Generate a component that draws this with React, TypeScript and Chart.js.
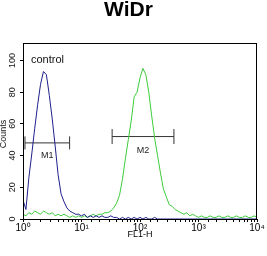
import { useEffect, useRef } from "react";
import { Chart, registerables } from "chart.js";

Chart.register(...registerables);

// FL1-H bin centres, as decade exponents (10^e)
const logBins = [
  0.0, 0.05, 0.1, 0.15, 0.2, 0.25, 0.3, 0.35, 0.4, 0.45, 0.5, 0.55, 0.6, 0.65, 0.7, 0.75, 0.8, 0.85, 0.9, 0.95,
  1.0, 1.05, 1.1, 1.15, 1.2, 1.25, 1.3, 1.35, 1.4, 1.45, 1.5, 1.55, 1.6, 1.65, 1.7, 1.75, 1.8, 1.85, 1.9, 1.95,
  2.0, 2.05, 2.1, 2.15, 2.2, 2.25, 2.3, 2.35, 2.4, 2.45, 2.5, 2.55, 2.6, 2.65, 2.7, 2.75, 2.8, 2.85, 2.9, 2.95,
  3.0, 3.05, 3.1, 3.15, 3.2, 3.25, 3.3, 3.35, 3.4, 3.45, 3.5, 3.55, 3.6, 3.65, 3.7, 3.75, 3.8, 3.85, 3.9, 3.95, 4.0,
];

// control (blue)
const controlCounts = [
  12, 6, 26, 41, 57, 72, 85, 93, 91, 78, 63, 46, 28, 16, 11, 7, 5, 4, 3, 3,
  2, 3, 1, 2, 1, 2, 1, 2, 1, 1, 2, 1, 1, 0, 1, 0, 1, 0, 1, 0,
  1, 0, 1, 0, 0, 1, 0, 0, 0, 0, 0, 0, 0, 0, 0, 0, 0, 0, 0, 0,
  0, 0, 0, 0, 0, 0, 0, 0, 0, 0, 0, 0, 0, 0, 0, 0, 0, 0, 0, 0, 0,
];

// WiDr sample (green)
const sampleCounts = [
  3, 2, 4, 3, 5, 4, 3, 5, 4, 3, 4, 2, 3, 2, 3, 2, 1, 2, 1, 2,
  1, 2, 1, 2, 3, 2, 3, 3, 4, 4, 5, 7, 10, 15, 25, 38, 50, 62, 77, 80,
  89, 95, 91, 80, 65, 51, 40, 29, 19, 14, 9, 8, 6, 5, 4, 3, 4, 2, 3, 2,
  1, 2, 1, 1, 2, 1, 1, 2, 1, 1, 2, 1, 1, 2, 1, 1, 2, 1, 1, 2, 1,
];

const yTickValues = [0, 20, 40, 60, 80, 100];
const xTickLabels = ["10⁰", "10¹", "10²", "10³", "10⁴"];

const markerM1 = [1.08, 6.26];
const levelM1 = 48;
const markerM2 = [33.4, 380];
const levelM2 = 52;
const controlLabelAt = { x: 1.37, y: 100.5 };

const FONT = "Arial, 'Liberation Sans', sans-serif";

export default function App() {
  const ref = useRef<HTMLCanvasElement>(null);

  useEffect(() => {
    document.body.style.margin = "0";
    const canvas = ref.current;
    if (!canvas) return;

    const extras = {
      id: "extras",
      afterDraw(chart: any) {
        const { ctx, chartArea: a, scales } = chart;
        const xs = scales.x;
        const ys = scales.y;
        ctx.save();
        ctx.strokeStyle = "#000";
        ctx.lineWidth = 1;
        ctx.strokeRect(Math.round(a.left) + 0.5, Math.round(a.top) + 0.5, Math.round(a.right - a.left) - 1, Math.round(a.bottom - a.top));

        ctx.fillStyle = "#111";
        ctx.textAlign = "center";
        ctx.textBaseline = "middle";
        ctx.font = `9px ${FONT}`;
        for (const v of yTickValues) {
          const py = ys.getPixelForValue(v);
          ctx.save();
          ctx.translate(13, py);
          ctx.rotate(-Math.PI / 2);
          ctx.fillText(String(v), 0, 0);
          ctx.restore();
        }
        ctx.save();
        ctx.translate(3.5, (a.top + a.bottom) / 2 + 3);
        ctx.rotate(-Math.PI / 2);
        ctx.fillText("Counts", 0, 0);
        ctx.restore();

        ctx.font = `9px ${FONT}`;
        ctx.fillStyle = "#222";
        const m1x = xs.getPixelForValue(Math.sqrt(markerM1[0] * markerM1[1]));
        ctx.fillText("M1", m1x, ys.getPixelForValue(levelM1) + 13);
        const m2x = xs.getPixelForValue(Math.sqrt(markerM2[0] * markerM2[1]));
        ctx.fillText("M2", m2x, ys.getPixelForValue(levelM2) + 14);

        ctx.font = `11px ${FONT}`;
        ctx.fillStyle = "#111";
        ctx.textAlign = "left";
        ctx.fillText("control", xs.getPixelForValue(controlLabelAt.x), ys.getPixelForValue(controlLabelAt.y));
        ctx.restore();
      },
    };

    const chart = new Chart(canvas, {
      type: "line",
      data: {
        datasets: [
          {
            label: "control",
            data: logBins.map((e, i) => ({ x: 10 ** e, y: controlCounts[i] })),
            borderColor: "#1f1f8c",
            borderWidth: 1,
            pointRadius: 0,
            tension: 0,
          },
          {
            label: "WiDr",
            data: logBins.map((e, i) => ({ x: 10 ** e, y: sampleCounts[i] })),
            borderColor: "#3ccc3c",
            borderWidth: 1,
            pointRadius: 0,
            tension: 0,
          },
          {
            label: "M1",
            data: markerM1.map((x) => ({ x, y: levelM1 })),
            borderColor: "#333",
            borderWidth: 1,
            pointStyle: "line",
            pointRotation: 90,
            pointRadius: 6.5,
            pointBorderColor: "#333",
            pointBorderWidth: 1,
          },
          {
            label: "M2",
            data: markerM2.map((x) => ({ x, y: levelM2 })),
            borderColor: "#333",
            borderWidth: 1,
            pointStyle: "line",
            pointRotation: 90,
            pointRadius: 7.5,
            pointBorderColor: "#333",
            pointBorderWidth: 1,
          },
        ],
      },
      options: {
        responsive: false,
        animation: false,
        layout: { padding: { left: 0, right: 10, top: 0, bottom: 0 } },
        plugins: {
          legend: { display: false },
          tooltip: { enabled: false },
          title: {
            display: true,
            text: "WiDr",
            color: "#000",
            font: { size: 21, weight: "bold", family: FONT, lineHeight: 1 },
            padding: { top: 0, bottom: 22 },
          },
        },
        scales: {
          x: {
            type: "logarithmic",
            min: 1,
            max: 10000,
            position: "bottom",
            border: { display: true, color: "#000" },
            grid: { drawOnChartArea: false, drawTicks: true, tickLength: 3, color: "#000" },
            ticks: {
              autoSkip: false,
              maxRotation: 0,
              minRotation: 0,
              padding: 0,
              color: "#000",
              font: { size: 10, family: FONT },
              callback: (v: any) => {
                const l = Math.log10(Number(v));
                const r = Math.round(l);
                return Math.abs(l - r) < 1e-9 ? xTickLabels[r] : "";
              },
            },
            title: {
              display: true,
              text: "FL1-H",
              color: "#000",
              font: { size: 9, family: FONT },
              padding: { top: 0, bottom: 16 },
            },
            afterFit: (s: any) => {
              s.height = 37;
            },
          },
          y: {
            type: "linear",
            min: 0,
            max: 111,
            border: { display: true, color: "#000" },
            grid: { drawOnChartArea: false, drawTicks: true, tickLength: 3, color: "#000" },
            ticks: { stepSize: 20, display: false, includeBounds: false },
            afterFit: (s: any) => {
              s.width = 23;
            },
          },
        },
      },
      plugins: [extras],
    });

    return () => chart.destroy();
  }, []);

  return (
    <div style={{ width: 267, height: 256, background: "#fff" }}>
      <canvas ref={ref} width={267} height={256} style={{ display: "block" }} />
    </div>
  );
}
